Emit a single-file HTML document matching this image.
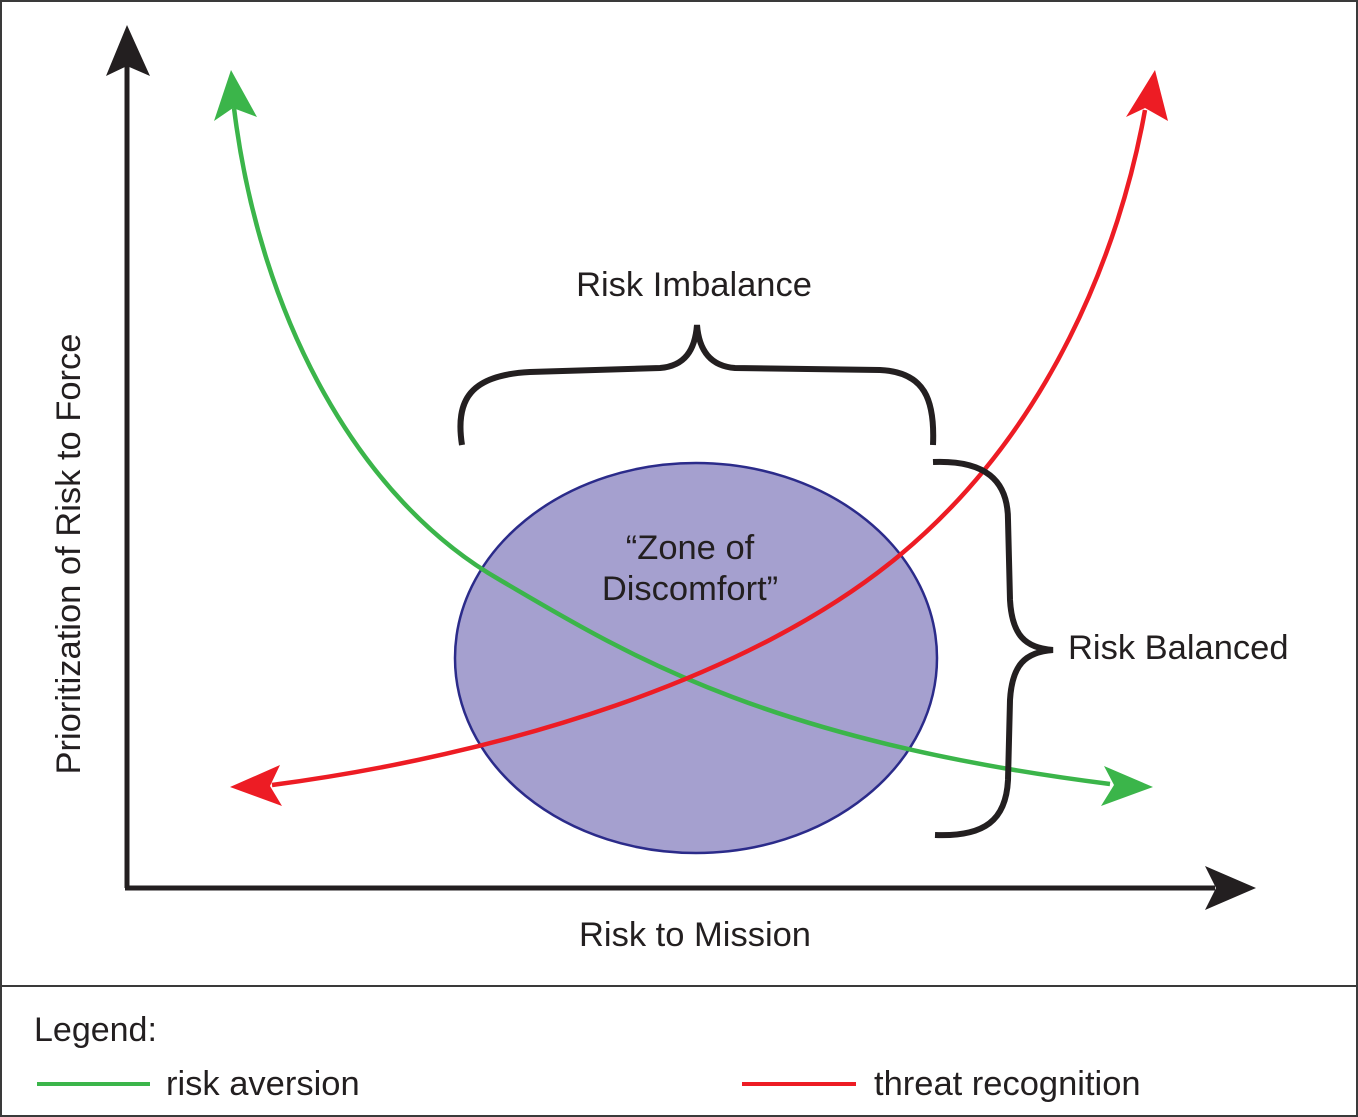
<!DOCTYPE html>
<html><head><meta charset="utf-8"><style>
html,body{margin:0;padding:0;background:#fff;}
svg{display:block;}
text{font-family:"Liberation Sans",Arial,sans-serif;fill:#231f20;}
</style></head><body>
<svg width="1358" height="1117" viewBox="0 0 1358 1117" xmlns="http://www.w3.org/2000/svg">
<rect x="1" y="1" width="1356" height="1115" fill="#fff" stroke="#3a3a3a" stroke-width="2"/>
<line x1="1" y1="986" x2="1357" y2="986" stroke="#3a3a3a" stroke-width="2"/>

<ellipse cx="696" cy="658" rx="241" ry="195" fill="#a5a0cf" stroke="#2b2b8a" stroke-width="2.5"/>

<line x1="127" y1="888" x2="127" y2="65" stroke="#231f20" stroke-width="5"/>
<polygon points="127,25 106,76 127,66 150,76" fill="#231f20"/>
<line x1="125" y1="888" x2="1215" y2="888" stroke="#231f20" stroke-width="5"/>
<polygon points="1256,888 1205,866 1216,888 1205,910" fill="#231f20"/>

<path d="M234,108 C260,320 360,500 500,580 C620,650 760,740 1110,784" fill="none" stroke="#3bb54a" stroke-width="4.5"/>
<polygon points="231,70 214,121 233,108 257,117" fill="#3bb54a"/>
<polygon points="1153,787 1104,766 1114,785 1101,806" fill="#3bb54a"/>

<path d="M272,785 C500,755 750,680 900,555 C1050,430 1120,250 1145,110" fill="none" stroke="#ed1c24" stroke-width="4.5"/>
<polygon points="1155,70 1126,117 1145,108 1168,121" fill="#ed1c24"/>
<polygon points="230,787 280,765 270,786 282,806" fill="#ed1c24"/>

<path d="M462,445 C455,400 470,375 530,372 L660,368 C685,366 695,350 697,325 C699,350 710,366 735,368 L880,370 C925,372 935,400 933,445" fill="none" stroke="#231f20" stroke-width="6"/>
<path d="M933,462 C985,460 1008,480 1008,520 L1010,600 C1012,635 1025,648 1053,650 C1025,652 1012,665 1010,700 L1008,780 C1006,820 985,837 935,835" fill="none" stroke="#231f20" stroke-width="6"/>

<text x="694" y="296" font-size="34.5" text-anchor="middle">Risk Imbalance</text>
<text x="690" y="559" font-size="34.5" text-anchor="middle">“Zone of</text>
<text x="690" y="600" font-size="34.5" text-anchor="middle">Discomfort”</text>
<text x="1068" y="659" font-size="34.5">Risk Balanced</text>
<text x="695" y="946" font-size="34.5" text-anchor="middle">Risk to Mission</text>
<text transform="translate(80,554) rotate(-90)" font-size="34.5" text-anchor="middle">Prioritization of Risk to Force</text>

<text x="34" y="1041" font-size="34">Legend:</text>
<line x1="37" y1="1084" x2="150" y2="1084" stroke="#3bb54a" stroke-width="4"/>
<text x="166" y="1095" font-size="34.5">risk aversion</text>
<line x1="742" y1="1084" x2="856" y2="1084" stroke="#ed1c24" stroke-width="4"/>
<text x="874" y="1095" font-size="34.5">threat recognition</text>
</svg>
</body></html>
